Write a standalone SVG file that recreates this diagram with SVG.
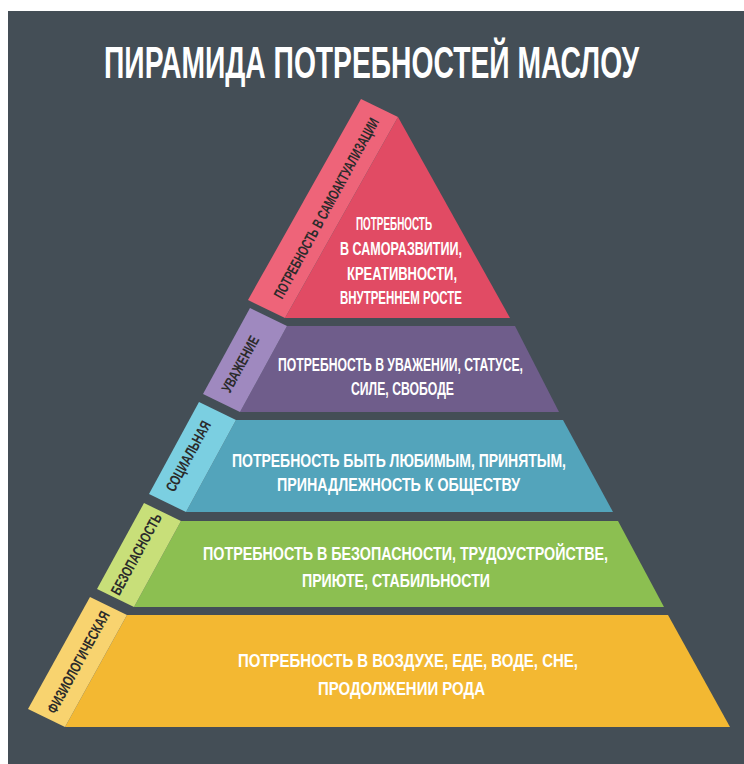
<svg xmlns="http://www.w3.org/2000/svg" width="744" height="764" viewBox="0 0 744 764">
<style>
.t{font-family:"Liberation Sans Narrow","Liberation Sans",Arial,sans-serif;font-weight:bold;fill:#ffffff;font-size:19px}
.title{font-family:"Liberation Sans Narrow","Liberation Sans",Arial,sans-serif;font-weight:bold;fill:#ffffff;font-size:44px;text-anchor:middle}
.s{font-family:"Liberation Sans Narrow","Liberation Sans",Arial,sans-serif;font-weight:bold;fill:#2b2b2b;font-size:15px;text-anchor:middle}
</style>
<rect x="0" y="0" width="744" height="764" fill="#ffffff"/>
<rect x="8" y="11" width="736" height="753" fill="#444e56"/>
<text class="title" transform="translate(371.5,78) scale(0.65,1)" textLength="823" lengthAdjust="spacingAndGlyphs">ПИРАМИДА ПОТРЕБНОСТЕЙ МАСЛОУ</text>

<g id="level-physiological">
<polygon points="127,615 668,615 730,727 65,727" fill="#f3b832"/>
<polygon points="90,597 127,615 65,727 28,709" fill="#f8d36f"/>
<text class="s" transform="translate(78,662) rotate(-61.4)" y="5.5" textLength="114" lengthAdjust="spacingAndGlyphs">ФИЗИОЛОГИЧЕСКАЯ</text>
<text class="t" x="238" y="667" textLength="340" lengthAdjust="spacingAndGlyphs">ПОТРЕБНОСТЬ В ВОЗДУХЕ, ЕДЕ, ВОДЕ, СНЕ,</text>
<text class="t" x="318" y="695" textLength="167" lengthAdjust="spacingAndGlyphs">ПРОДОЛЖЕНИИ РОДА</text>
</g>

<g id="level-safety">
<polygon points="181,521 618,521 664,607 134,607" fill="#8cbf51"/>
<polygon points="144,503 181,521 134,607 97,589" fill="#c8df79"/>
<text class="s" transform="translate(136,554) rotate(-61.4)" y="5.5" textLength="90" lengthAdjust="spacingAndGlyphs">БЕЗОПАСНОСТЬ</text>
<text class="t" x="203" y="560" textLength="405" lengthAdjust="spacingAndGlyphs">ПОТРЕБНОСТЬ В БЕЗОПАСНОСТИ, ТРУДОУСТРОЙСТВЕ,</text>
<text class="t" x="302" y="587" textLength="188" lengthAdjust="spacingAndGlyphs">ПРИЮТЕ, СТАБИЛЬНОСТИ</text>
</g>

<g id="level-social">
<polygon points="236,420 563,420 613,512 186,512" fill="#53a4bb"/>
<polygon points="199,402 236,420 186,512 149,494" fill="#7bcfe1"/>
<text class="s" transform="translate(188,456) rotate(-61.4)" y="5.5" textLength="78" lengthAdjust="spacingAndGlyphs">СОЦИАЛЬНАЯ</text>
<text class="t" x="232" y="467" textLength="334" lengthAdjust="spacingAndGlyphs">ПОТРЕБНОСТЬ БЫТЬ ЛЮБИМЫМ, ПРИНЯТЫМ,</text>
<text class="t" x="277" y="491" textLength="243" lengthAdjust="spacingAndGlyphs">ПРИНАДЛЕЖНОСТЬ К ОБЩЕСТВУ</text>
</g>

<g id="level-esteem">
<polygon points="287,326 515,326 559,412 240,412" fill="#6f5d8b"/>
<polygon points="250,308 287,326 240,412 203,394" fill="#9f89bf"/>
<text class="s" transform="translate(240,364) rotate(-61.4)" y="5.5" textLength="62" lengthAdjust="spacingAndGlyphs">УВАЖЕНИЕ</text>
<text class="t" x="278" y="371" textLength="245" lengthAdjust="spacingAndGlyphs">ПОТРЕБНОСТЬ В УВАЖЕНИИ, СТАТУСЕ,</text>
<text class="t" x="351" y="395" textLength="103" lengthAdjust="spacingAndGlyphs">СИЛЕ, СВОБОДЕ</text>
</g>

<g id="level-self-actualization">
<polygon points="398,117 510,318 285,318" fill="#e14b64"/>
<polygon points="361,99 398,117 285,318 248,300" fill="#ee6479"/>
<text class="s" transform="translate(326,208) rotate(-61.4)" y="5.5" textLength="203" lengthAdjust="spacingAndGlyphs">ПОТРЕБНОСТЬ В САМОАКТУАЛИЗАЦИИ</text>
<text class="t" x="356" y="230" textLength="76" lengthAdjust="spacingAndGlyphs">ПОТРЕБНОСТЬ</text>
<text class="t" x="340" y="255" textLength="122" lengthAdjust="spacingAndGlyphs">В САМОРАЗВИТИИ,</text>
<text class="t" x="347" y="280" textLength="110" lengthAdjust="spacingAndGlyphs">КРЕАТИВНОСТИ,</text>
<text class="t" x="340" y="304" textLength="122" lengthAdjust="spacingAndGlyphs">ВНУТРЕННЕМ РОСТЕ</text>
</g>
</svg>
